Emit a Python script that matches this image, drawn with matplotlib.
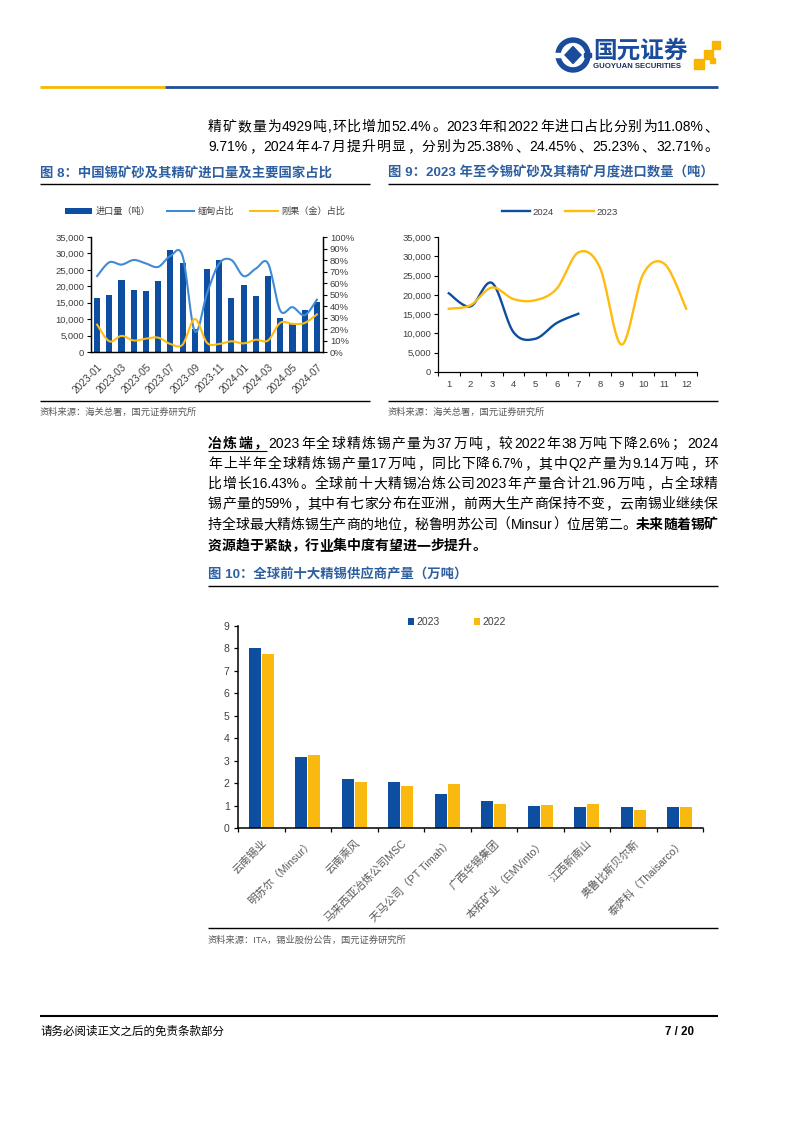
import numpy as np
import matplotlib
matplotlib.use("Agg")
import matplotlib.pyplot as plt
from matplotlib.patches import Circle, Rectangle, Polygon
from matplotlib.lines import Line2D

plt.rcParams['font.family'] = ['Liberation Sans', 'Noto Sans CJK SC']

# ---- data ----
months = ['2023-01', '2023-02', '2023-03', '2023-04', '2023-05', '2023-06', '2023-07',
          '2023-08', '2023-09', '2023-10', '2023-11', '2023-12', '2024-01', '2024-02',
          '2024-03', '2024-04', '2024-05', '2024-06', '2024-07']
imports = [16400, 17300, 21900, 18900, 18600, 21600, 31000, 27100, 7100, 25300,
           28000, 16400, 20400, 17000, 23100, 10300, 8600, 12700, 15100]
myanmar_share = [0.66, 0.78, 0.76, 0.80, 0.77, 0.74, 0.835, 0.835, 0.18, 0.51,
                 0.77, 0.80, 0.66, 0.725, 0.77, 0.36, 0.39, 0.32, 0.455]
congo_share = [0.238, 0.093, 0.14, 0.10, 0.116, 0.125, 0.07, 0.064, 0.287, 0.08,
               0.07, 0.093, 0.075, 0.107, 0.10, 0.2538, 0.2445, 0.2523, 0.3271]

month_no = [1, 2, 3, 4, 5, 6, 7, 8, 9, 10, 11, 12]
imports_2023 = imports[:12]
imports_2024 = imports[12:]

companies = ['云南锡业', '明苏尔（Minsur）', '云南乘风', '马来西亚冶炼公司MSC',
             '天马公司（PT Timah）', '广西华锡集团', '本拓矿业（EMVinto）', '江西新南山',
             '奥鲁比斯贝尔斯', '泰萨科（Thaisarco）']
prod_2023 = [8.0, 3.17, 2.19, 2.04, 1.52, 1.21, 0.99, 0.95, 0.95, 0.95]
prod_2022 = [7.74, 3.26, 2.04, 1.88, 1.97, 1.08, 1.04, 1.08, 0.81, 0.95]

BLUE = '#0D4EA0'
LBLUE = '#3F8AD6'
YEL = '#FFBC0F'
TITLE = '#2D5FA0'
TICK = '#404040'

W, H = 794, 1123
fig = plt.figure(figsize=(W / 100, H / 100), dpi=100)
renderer = fig.canvas.get_renderer()


def fx(x):
    return x / W


def fy(y):
    return 1 - y / H


def box(l, t, r, b):
    return [l / W, 1 - b / H, (r - l) / W, (b - t) / H]


def hline(x0, x1, y, lw, color):
    fig.add_artist(Line2D([fx(x0), fx(x1)], [fy(y), fy(y)], lw=lw, color=color,
                          transform=fig.transFigure, solid_capstyle='butt'))


def smooth(xs, ys, n=16):
    # excel-like smoothed line through the points
    xs = np.asarray(xs, float)
    ys = np.asarray(ys, float)
    px = np.r_[xs[0], xs, xs[-1]]
    py = np.r_[ys[0], ys, ys[-1]]
    t = np.linspace(0, 1, n, endpoint=False)
    ox, oy = [], []
    for i in range(len(xs) - 1):
        x1, x2 = px[i + 1], px[i + 2]
        y1, y2 = py[i + 1], py[i + 2]
        c1x = x1 + (x2 - px[i]) / 6
        c1y = y1 + (y2 - py[i]) / 6
        c2x = x2 - (px[i + 3] - x1) / 6
        c2y = y2 - (py[i + 3] - y1) / 6
        b0, b1, b2, b3 = (1 - t) ** 3, 3 * t * (1 - t) ** 2, 3 * t ** 2 * (1 - t), t ** 3
        ox.extend(b0 * x1 + b1 * c1x + b2 * c2x + b3 * x2)
        oy.extend(b0 * y1 + b1 * c1y + b2 * c2y + b3 * y2)
    ox.append(xs[-1])
    oy.append(ys[-1])
    return np.array(ox), np.array(oy)


# ---- justified paragraph text ----
FS = 10
EM = FS * 100 / 72
_wcache = {}


def tw(s, bold):
    key = (s, bold)
    if key not in _wcache:
        t = fig.text(0, 0, s, fontsize=FS, family='Liberation Sans',
                     weight='bold' if bold else 'normal')
        _wcache[key] = t.get_window_extent(renderer).width
        t.remove()
    return _wcache[key]


def is_cjk(ch):
    return ord(ch) >= 0x2E80


def tokenize(segments):
    toks = []
    for text, bold in segments:
        run = ''
        for ch in text:
            if is_cjk(ch) or ch == ' ':
                if run:
                    toks.append((run, bold, False))
                    run = ''
                if ch != ' ':
                    toks.append((ch, bold, True))
            else:
                run += ch
        if run:
            toks.append((run, bold, False))
    return toks


def para_line(y, segments, x0=208, x1=718, justify=True, underline_first=False):
    toks = tokenize(segments)
    widths = [EM if c else tw(s, b) for s, b, c in toks]
    gap = (x1 - x0 - sum(widths)) / (len(toks) - 1) if justify else 0
    x = x0
    yb = y + 5
    ul_end = None
    for (s, b, c), w in zip(toks, widths):
        wt = 'bold' if b else 'normal'
        if c:
            if s in '，。、：；）':
                fig.text(fx(x + 0.5), fy(yb), s, fontsize=FS, weight=wt,
                         family='Noto Sans CJK SC', ha='left', va='baseline')
            elif s == '（':
                fig.text(fx(x + w - 0.5), fy(yb), s, fontsize=FS, weight=wt,
                         family='Noto Sans CJK SC', ha='right', va='baseline')
            else:
                fig.text(fx(x + w / 2), fy(yb), s, fontsize=FS, weight=wt,
                         family='Noto Sans CJK SC', ha='center', va='baseline')
        else:
            fig.text(fx(x), fy(yb), s, fontsize=FS, weight=wt,
                     family='Liberation Sans', ha='left', va='baseline')
        if b and underline_first:
            ul_end = x + w
        x += w + gap
    if underline_first and ul_end:
        hline(x0, ul_end, y + 8, 0.8, 'black')


# ---- header ----
lg = fig.add_axes(box(552, 32, 725, 78))
lg.set_xlim(552, 725)
lg.set_ylim(78, 32)
lg.axis('off')
lg.add_patch(Circle((573, 55), 17, color='#1B4C9C'))
lg.add_patch(Circle((573, 55), 11.5, color='white'))
lg.add_patch(Polygon([(573, 46.5), (581, 55), (573, 63.5), (565, 55)], color='#1B4C9C'))
lg.add_patch(Rectangle((555, 53), 7, 4, color='white'))
lg.add_patch(Rectangle((584, 53), 7, 4, color='#1B4C9C'))
lg.text(593, 51, '国元证券', fontsize=17, weight='bold', color='#1B4C9C',
        family='Noto Sans CJK SC', va='center', ha='left')
lg.text(593, 67, 'GUOYUAN SECURITIES', fontsize=5.6, weight='bold', color='#1B2F5C',
        va='center', ha='left')
for (sx, sy, ss) in [(694, 59, 10), (704, 50, 9), (712, 41, 8), (710, 58, 5)]:
    lg.add_patch(Rectangle((sx, sy), ss, ss, color='#F7B500'))

hline(40, 165, 87, 2.0, '#F5B800')
hline(165, 718, 87, 2.0, '#1F4E96')

para_line(126, [('精矿数量为4929吨,环比增加52.4%。2023年和2022年进口占比分别为11.08%、', False)])
para_line(146, [('9.71%，2024年4-7月提升明显，分别为25.38%、24.45%、25.23%、32.71%。', False)])

# ---- figure 8 ----
fig.text(fx(40), fy(173), '图 8：中国锡矿砂及其精矿进口量及主要国家占比', fontsize=9.6,
         weight='bold', color=TITLE, va='center')
hline(40, 370, 184, 1.0, 'black')

ax8 = fig.add_axes(box(91, 237, 323, 352))
x = np.arange(len(months))
bars = ax8.bar(x, imports, width=0.5, color=BLUE, zorder=2)
ax8.set_xlim(-0.5, len(months) - 0.5)
ax8.set_ylim(0, 35000)
ax8.set_yticks(range(0, 35001, 5000))
ax8.set_yticklabels([f'{v:,}' for v in range(0, 35001, 5000)])
ax8.set_xticks(x[::2])
ax8.set_xticklabels(months[::2], rotation=45, ha='right', va='top', rotation_mode='anchor')
ax8.tick_params(axis='x', length=0, pad=7, labelsize=7.3, labelcolor=TICK)
ax8.tick_params(axis='y', length=3, width=0.8, pad=2, labelsize=6.8, labelcolor=TICK)
ax8.spines['top'].set_visible(False)
for s in ax8.spines.values():
    s.set_linewidth(0.9)

ax8b = ax8.twinx()
sx, sy = smooth(x, myanmar_share)
l1, = ax8b.plot(sx, sy, color=LBLUE, lw=1.5)
sx, sy = smooth(x, congo_share)
l2, = ax8b.plot(sx, sy, color=YEL, lw=1.5)
ax8b.set_ylim(0, 1)
ax8b.set_yticks(np.arange(0, 1.01, 0.1))
ax8b.set_yticklabels([f'{int(round(v * 100))}%' for v in np.arange(0, 1.01, 0.1)])
ax8b.tick_params(axis='y', length=3, width=0.8, pad=2, labelsize=6.8, labelcolor=TICK)
ax8b.spines['top'].set_visible(False)
for s in ax8b.spines.values():
    s.set_linewidth(0.9)
ax8b.legend([bars, l1, l2], ['进口量（吨）', '缅甸占比', '刚果（金）占比'], ncol=3,
            loc='center', bbox_to_anchor=(0.49, 1.22), frameon=False, fontsize=6.6,
            labelcolor=TICK, handlelength=3.0, handleheight=0.6, handletextpad=0.35,
            columnspacing=1.8, borderaxespad=0)

hline(40, 370, 401, 1.0, 'black')
fig.text(fx(40), fy(412), '资料来源：海关总署，国元证券研究所', fontsize=6.7, color='#595959', va='center')

# ---- figure 9 ----
fig.text(fx(388), fy(173), '图 9：2023 年至今锡矿砂及其精矿月度进口数量（吨）', fontsize=9.6,
         weight='bold', color=TITLE, va='center')
hline(388, 718, 184, 1.0, 'black')

ax9 = fig.add_axes(box(438, 237, 697, 372))
sx, sy = smooth(month_no[:len(imports_2024)], imports_2024)
ax9.plot(sx, sy, color=BLUE, lw=1.7, label='2024')
sx, sy = smooth(month_no, imports_2023)
ax9.plot(sx, sy, color=YEL, lw=1.7, label='2023')
ax9.set_xlim(0.5, 12.5)
ax9.set_ylim(0, 35000)
ax9.set_xticks(month_no)
ax9.set_xticks(np.arange(0.5, 12.6, 1), minor=True)
ax9.set_yticks(range(0, 35001, 5000))
ax9.set_yticklabels([f'{v:,}' for v in range(0, 35001, 5000)])
ax9.tick_params(axis='x', which='major', length=0, pad=6, labelsize=6.8, labelcolor=TICK)
ax9.tick_params(axis='x', which='minor', length=3, width=0.8)
ax9.tick_params(axis='y', length=3, width=0.8, pad=2, labelsize=6.8, labelcolor=TICK)
ax9.spines['top'].set_visible(False)
ax9.spines['right'].set_visible(False)
for s in ax9.spines.values():
    s.set_linewidth(0.9)
ax9.legend(ncol=2, loc='center', bbox_to_anchor=(0.47, 1.185), frameon=False, fontsize=6.8,
           labelcolor=TICK, handlelength=3.0, handletextpad=0.25, columnspacing=1.2,
           borderaxespad=0)

hline(388, 718, 401, 1.0, 'black')
fig.text(fx(388), fy(412), '资料来源：海关总署，国元证券研究所', fontsize=6.7, color='#595959', va='center')

# ---- paragraph ----
para_line(443, [('冶炼端，', True),
                ('2023 年全球精炼锡产量为 37 万吨，较 2022 年 38 万吨下降 2.6%；2024', False)],
          underline_first=True)
para_line(463, [('年上半年全球精炼锡产量 17 万吨，同比下降 6.7%，其中 Q2 产量为 9.14 万吨，环', False)])
para_line(483, [('比增长 16.43%。全球前十大精锡冶炼公司 2023 年产量合计 21.96 万吨，占全球精', False)])
para_line(503, [('锡产量的 59%，其中有七家分布在亚洲，前两大生产商保持不变，云南锡业继续保', False)])
para_line(524, [('持全球最大精炼锡生产商的地位，秘鲁明苏公司（Minsur）位居第二。', False),
                ('未来随着锡矿', True)])
para_line(545, [('资源趋于紧缺，行业集中度有望进一步提升。', True)], justify=False)

# ---- figure 10 ----
fig.text(fx(208), fy(575), '图 10：全球前十大精锡供应商产量（万吨）', fontsize=9.6,
         weight='bold', color=TITLE, va='center')
hline(208, 718, 586, 1.0, 'black')

ax10 = fig.add_axes(box(238, 626, 703, 828))
xc = np.arange(len(companies))
ax10.bar(xc - 0.14, prod_2023, width=0.26, color=BLUE, label='2023')
ax10.bar(xc + 0.14, prod_2022, width=0.26, color='#F9B90F', label='2022')
ax10.set_xlim(-0.5, len(companies) - 0.5)
ax10.set_ylim(0, 9)
ax10.set_yticks(range(0, 10))
ax10.set_xticks(xc)
ax10.set_xticklabels(companies, rotation=45, ha='right', va='top', rotation_mode='anchor')
ax10.set_xticks(np.arange(-0.5, len(companies)), minor=True)
ax10.tick_params(axis='x', which='major', length=0, pad=7, labelsize=7.8, labelcolor='#595959')
ax10.tick_params(axis='x', which='minor', length=3, width=0.9)
ax10.tick_params(axis='y', length=3, width=0.9, pad=3, labelsize=7.5, labelcolor=TICK)
ax10.spines['top'].set_visible(False)
ax10.spines['right'].set_visible(False)
for s in ax10.spines.values():
    s.set_linewidth(1.1)
ax10.legend(ncol=2, loc='center', bbox_to_anchor=(0.47, 1.02), frameon=False, fontsize=7.5,
            labelcolor=TICK, handlelength=0.6, handleheight=0.6, handletextpad=0.2,
            columnspacing=3.3, borderaxespad=0)

hline(208, 718, 928, 1.0, 'black')
fig.text(fx(208), fy(940), '资料来源：ITA，锡业股份公告，国元证券研究所', fontsize=6.7,
         color='#595959', va='center')

# ---- footer ----
hline(40, 718, 1016, 1.5, 'black')
fig.text(fx(40), fy(1032), '请务必阅读正文之后的免责条款部分', fontsize=8.3, va='center')
fig.text(fx(694), fy(1032), '7 / 20', fontsize=8.3, weight='bold', ha='right', va='center')

fig.savefig('out.png', dpi=100)
